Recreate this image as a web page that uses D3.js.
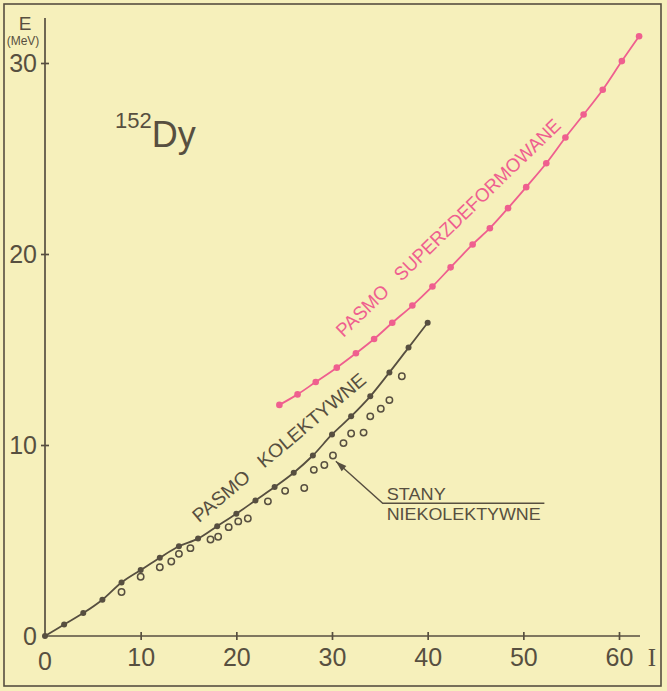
<!DOCTYPE html>
<html><head><meta charset="utf-8">
<script src="https://cdn.jsdelivr.net/npm/d3@7"></script>
<style>
html,body{margin:0;padding:0;background:#f6f0bb;}
svg{display:block;}
text.pre{white-space:pre;}
</style></head>
<body>
<script>
// ---- data ----
const collI = [0,2,4,6,8,10,12,14,16,18,20,22,24,26,28,30,32,34,36,38,40];
const collE = [0,0.6,1.2,1.9,2.8,3.45,4.1,4.7,5.1,5.75,6.4,7.1,7.8,8.55,9.45,10.55,11.5,12.55,13.8,15.1,16.4];
const ncI = [8,10,12,13.2,14,15.2,17.3,18.1,19.2,20.2,21.2,23.3,25.1,27.1,28.1,29.2,30.1,31.2,32,33.3,34,35.1,36,37.3];
const ncE = [2.3,3.1,3.6,3.9,4.3,4.6,5.05,5.2,5.7,6.0,6.15,7.05,7.6,7.75,8.7,8.95,9.45,10.1,10.6,10.65,11.5,11.9,12.35,13.6];
const sdI = [24.5,26.4,28.3,30.5,32.5,34.4,36.3,38.4,40.5,42.4,44.7,46.5,48.4,50.3,52.4,54.4,56.3,58.3,60.3,62.1];
const sdE = [12.1,12.65,13.3,14.05,14.8,15.55,16.4,17.3,18.3,19.3,20.5,21.35,22.4,23.5,24.75,26.1,27.3,28.6,30.1,31.4];
const xTicks = [10,20,30,40,50,60];
const xTickLabels = ["10","20","30","40","50","60"];
const yTicks = [10,20,30];
const yTickLabels = ["10","20","30"];
const labelCollective = "PASMO   KOLEKTYWNE";
const labelSuper = "PASMO   SUPERZDEFORMOWANE";
const labelNc1 = "STANY";
const labelNc2 = "NIEKOLEKTYWNE";

// ---- drawing ----
const W = 667, H = 691;
const ink = "#574f40", pink = "#ef5f8f";
const font = "'Liberation Sans', Arial, sans-serif";
const svg = d3.select("body").append("svg").attr("width", W).attr("height", H);
svg.append("rect").attr("width", W).attr("height", H).attr("fill", "#f6f0bb");
svg.append("rect").attr("x", 4).attr("y", 4).attr("width", 657).attr("height", 682)
  .attr("fill", "none").attr("stroke", ink).attr("stroke-width", 1.6);

const x = d3.scaleLinear().domain([0, 60]).range([45, 619]);
const y = d3.scaleLinear().domain([0, 30]).range([636, 63]);

// axes
const gx = svg.append("g").attr("transform", `translate(0,${y(0)})`)
  .call(d3.axisBottom(x).tickValues(xTicks).tickFormat((d,i)=>xTickLabels[i]).tickSize(4).tickPadding(8));
gx.select(".domain").attr("d", `M${x(0)},0H640`);
gx.selectAll(".tick line").attr("y1", -4).attr("y2", 4);
const gy = svg.append("g").attr("transform", `translate(${x(0)},0)`)
  .call(d3.axisLeft(y).tickValues(yTicks).tickFormat((d,i)=>yTickLabels[i]).tickSize(4).tickPadding(4));
gy.select(".domain").attr("d", `M0,${y(0)}V18`);
gy.selectAll(".tick line").attr("x1", -4).attr("x2", 4);
[gx, gy].forEach(g => {
  g.selectAll(".domain, .tick line").attr("stroke", ink).attr("stroke-width", 1.7);
  g.selectAll(".tick text").attr("fill", ink).attr("font-family", font).attr("font-size", 25);
});
gx.selectAll(".tick text").attr("dy", "0.71em");
// zero labels
svg.append("text").attr("x", x(0)).attr("y", 670).attr("text-anchor", "middle")
  .attr("font-family", font).attr("font-size", 25).attr("fill", ink).text("0");
svg.append("text").attr("x", 37).attr("y", y(0) + 9).attr("text-anchor", "end")
  .attr("font-family", font).attr("font-size", 25).attr("fill", ink).text("0");

// axis titles
svg.append("text").attr("x", 25).attr("y", 30).attr("text-anchor", "middle")
  .attr("font-family", font).attr("font-size", 19).attr("fill", ink).text("E");
svg.append("text").attr("x", 23).attr("y", 45).attr("text-anchor", "middle")
  .attr("font-family", font).attr("font-size", 12).attr("fill", ink).text("(MeV)");
svg.append("text").attr("x", 652).attr("y", 666).attr("text-anchor", "middle")
  .attr("font-family", "'Liberation Serif', serif").attr("font-size", 25).attr("fill", ink).text("I");

// nucleus label
const nuc = svg.append("text").attr("x", 115).attr("y", 147).attr("font-family", font).attr("fill", ink);
nuc.append("tspan").attr("font-size", 22).attr("dy", -19).text("152");
nuc.append("tspan").attr("font-size", 36).attr("dy", 19).text("Dy");

const line = d3.line().x(d => x(d[0])).y(d => y(d[1])).curve(d3.curveCatmullRom);

// collective band
const coll = collI.map((v,i)=>[v, collE[i]]);
svg.append("path").datum(coll).attr("d", line).attr("fill", "none").attr("stroke", ink).attr("stroke-width", 1.8);
svg.selectAll(".cd").data(coll).join("circle").attr("cx", d=>x(d[0])).attr("cy", d=>y(d[1]))
  .attr("r", 3).attr("fill", ink);

// non-collective states
const nc = ncI.map((v,i)=>[v, ncE[i]]);
svg.selectAll(".nc").data(nc).join("circle").attr("cx", d=>x(d[0])).attr("cy", d=>y(d[1]))
  .attr("r", 3.2).attr("fill", "none").attr("stroke", ink).attr("stroke-width", 1.5);

// superdeformed band
const sd = sdI.map((v,i)=>[v, sdE[i]]);
svg.append("path").datum(sd).attr("d", line).attr("fill", "none").attr("stroke", pink).attr("stroke-width", 1.8);
svg.selectAll(".sd").data(sd).join("circle").attr("cx", d=>x(d[0])).attr("cy", d=>y(d[1]))
  .attr("r", 3.3).attr("fill", pink);

// rotated band labels
svg.append("text").attr("class", "pre").attr("transform", `translate(${x(16.1)},${y(5.9)}) rotate(-40)`)
  .attr("font-family", font).attr("font-size", 19).attr("fill", ink)
  .attr("textLength", 220).attr("lengthAdjust", "spacingAndGlyphs").text(labelCollective);
svg.append("text").attr("class", "pre").attr("transform", `translate(${x(31.2)},${y(15.6)}) rotate(-44)`)
  .attr("font-family", font).attr("font-size", 19).attr("fill", pink)
  .attr("textLength", 304).attr("lengthAdjust", "spacingAndGlyphs").text(labelSuper);

// non-collective annotation
const tailI = 35.3, tailE = 6.95, headI = 30.4, headE = 9.15, endI = 52.2;
svg.append("path").attr("d", `M${x(endI)},${y(tailE)}H${x(tailI)}L${x(headI)},${y(headE)}`)
  .attr("fill", "none").attr("stroke", ink).attr("stroke-width", 1.4);
const ang = Math.atan2(y(headE)-y(tailE), x(headI)-x(tailI)) * 180 / Math.PI;
svg.append("path").attr("d", "M0,0L-11,-3.5L-11,3.5Z").attr("fill", ink)
  .attr("transform", `translate(${x(headI)},${y(headE)}) rotate(${ang})`);
svg.append("text").attr("x", x(tailI) + 4).attr("y", y(tailE) - 3)
  .attr("font-family", font).attr("font-size", 17).attr("fill", ink)
  .attr("textLength", 59).attr("lengthAdjust", "spacingAndGlyphs").text(labelNc1);
svg.append("text").attr("x", x(tailI) + 4).attr("y", y(tailE) + 17)
  .attr("font-family", font).attr("font-size", 17).attr("fill", ink)
  .attr("textLength", 154).attr("lengthAdjust", "spacingAndGlyphs").text(labelNc2);
</script>
</body></html>
